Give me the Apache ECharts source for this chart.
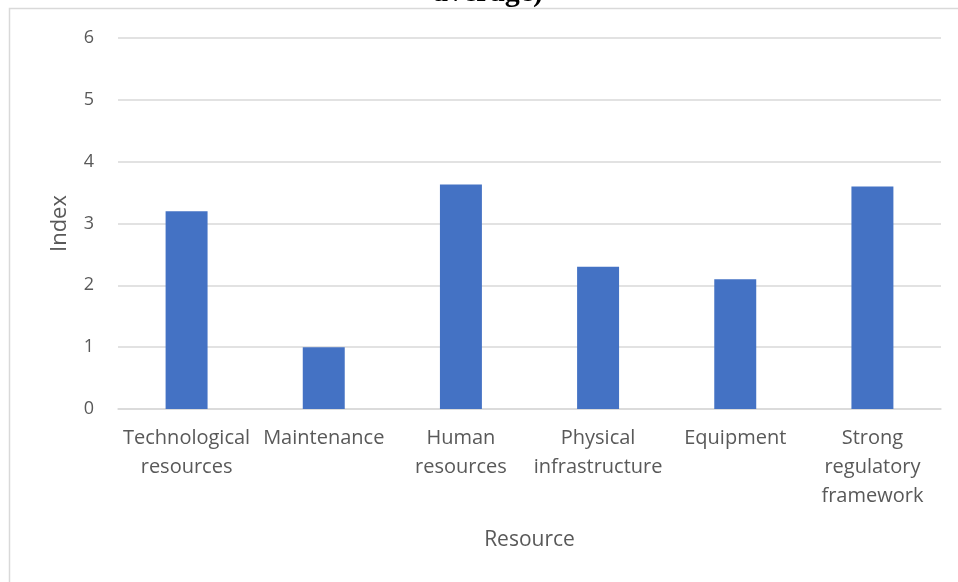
<!DOCTYPE html>
<html>
<head>
<meta charset="utf-8">
<script src="https://cdn.jsdelivr.net/npm/echarts@6/dist/echarts.min.js"></script>
<style>
  html, body { margin: 0; padding: 0; background: #fff; }
  #chart { width: 958px; height: 582px; }
</style>
</head>
<body>
<div id="chart"></div>
<script>
const categories = [
  'Technological\nresources',
  'Maintenance',
  'Human\nresources',
  'Physical\ninfrastructure',
  'Equipment',
  'Strong\nregulatory\nframework'
];
const indexValues = [3.2, 1.0, 3.63, 2.3, 2.1, 3.6];
const titleText = 'average)';
const xAxisName = 'Resource';
const yAxisName = 'Index';

const font = '"Open Sans", sans-serif';
const grey = '#595959';

const chart = echarts.init(document.getElementById('chart'));

chart.setOption({
  animation: false,
  graphic: [
    {
      type: 'rect',
      shape: { x: 9.5, y: 8.5, width: 1000, height: 1000 },
      style: { fill: 'none', stroke: '#d9d9d9', lineWidth: 1.5 },
      silent: true
    },
    {
      type: 'text',
      x: 488,
      y: 8,
      style: {
        text: titleText,
        font: 'bold 30px "Liberation Serif", serif',
        fill: '#000',
        align: 'center',
        verticalAlign: 'bottom'
      }
    }
  ],
  grid: { left: 118, right: 17, top: 38, bottom: 173 },
  xAxis: {
    type: 'category',
    data: categories,
    name: xAxisName,
    nameLocation: 'middle',
    nameGap: 121,
    nameTextStyle: { fontFamily: font, fontSize: 21, color: grey },
    axisLine: { lineStyle: { color: '#d9d9d9', width: 1.5 } },
    axisTick: { show: false },
    axisLabel: {
      interval: 0,
      fontFamily: font,
      fontSize: 20,
      color: grey,
      lineHeight: 29,
      margin: 15
    }
  },
  yAxis: {
    type: 'value',
    min: 0,
    max: 6,
    interval: 1,
    name: yAxisName,
    nameLocation: 'middle',
    nameGap: 47,
    nameTextStyle: { fontFamily: font, fontSize: 22, color: grey },
    axisLine: { show: false },
    axisTick: { show: false },
    axisLabel: { fontFamily: font, fontSize: 18, color: grey, margin: 24 },
    splitLine: { lineStyle: { color: '#d9d9d9', width: 1.5 } }
  },
  series: [
    {
      type: 'bar',
      data: indexValues,
      barWidth: '30.6%',
      itemStyle: { color: '#4472c4' }
    }
  ]
});
</script>
</body>
</html>
